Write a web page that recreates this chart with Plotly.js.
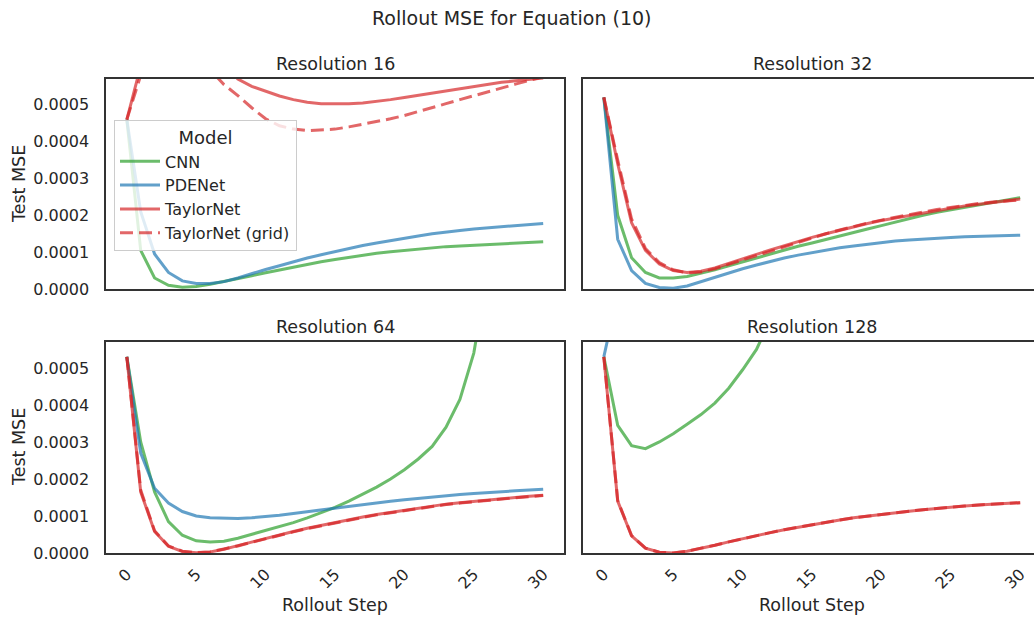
<!DOCTYPE html>
<html>
<head>
<meta charset="utf-8">
<script src="https://cdn.plot.ly/plotly-3.0.1.min.js"></script>
<style>
html,body{margin:0;padding:0;overflow:hidden;background:#ffffff;}
#chart{width:1050px;height:620px;}
</style>
</head>
<body>
<div id="chart"></div>
<script>
// ---- data ----
const steps = [0,1,2,3,4,5,6,7,8,9,10,11,12,13,14,15,16,17,18,19,20,21,22,23,24,25,26,27,28,29,30];

const models = ["CNN", "PDENet", "TaylorNet", "TaylorNet (grid)"];
const resolutions = ["Resolution 16", "Resolution 32", "Resolution 64", "Resolution 128"];

// Resolution 16
const cnn16  = [4.6e-4,1.05e-4,0.3e-4,0.1e-4,0.05e-4,0.07e-4,0.13e-4,0.2e-4,0.28e-4,0.36e-4,0.44e-4,0.52e-4,0.6e-4,0.67e-4,0.74e-4,0.8e-4,0.86e-4,0.92e-4,0.97e-4,1.01e-4,1.05e-4,1.09e-4,1.12e-4,1.15e-4,1.17e-4,1.19e-4,1.21e-4,1.23e-4,1.25e-4,1.26e-4,1.28e-4];
const pde16  = [4.6e-4,2.1e-4,0.95e-4,0.45e-4,0.22e-4,0.15e-4,0.15e-4,0.2e-4,0.3e-4,0.42e-4,0.53e-4,0.63e-4,0.74e-4,0.84e-4,0.93e-4,1.02e-4,1.1e-4,1.18e-4,1.25e-4,1.32e-4,1.38e-4,1.44e-4,1.5e-4,1.55e-4,1.59e-4,1.63e-4,1.66e-4,1.69e-4,1.72e-4,1.75e-4,1.78e-4];
const tay16  = [4.6e-4,6.0e-4,7.5e-4,8.2e-4,8.0e-4,7.4e-4,6.7e-4,6.15e-4,5.7e-4,5.5e-4,5.36e-4,5.24e-4,5.14e-4,5.07e-4,5.03e-4,5.02e-4,5.03e-4,5.05e-4,5.09e-4,5.14e-4,5.2e-4,5.26e-4,5.32e-4,5.38e-4,5.44e-4,5.5e-4,5.56e-4,5.61e-4,5.65e-4,5.69e-4,5.73e-4];
const grid16 = [4.6e-4,5.9e-4,7.0e-4,7.4e-4,7.2e-4,6.6e-4,5.95e-4,5.55e-4,5.25e-4,4.92e-4,4.62e-4,4.43e-4,4.34e-4,4.3e-4,4.31e-4,4.34e-4,4.4e-4,4.47e-4,4.54e-4,4.62e-4,4.71e-4,4.81e-4,4.92e-4,5.03e-4,5.14e-4,5.25e-4,5.36e-4,5.46e-4,5.56e-4,5.66e-4,5.76e-4];

// Resolution 32
const cnn32  = [5.2e-4,2.0e-4,0.85e-4,0.45e-4,0.3e-4,0.3e-4,0.34e-4,0.42e-4,0.52e-4,0.63e-4,0.74e-4,0.85e-4,0.96e-4,1.06e-4,1.16e-4,1.25e-4,1.35e-4,1.45e-4,1.54e-4,1.63e-4,1.72e-4,1.82e-4,1.92e-4,2.0e-4,2.08e-4,2.15e-4,2.22e-4,2.29e-4,2.36e-4,2.42e-4,2.48e-4];
const pde32  = [5.2e-4,1.35e-4,0.5e-4,0.15e-4,0.04e-4,0.02e-4,0.08e-4,0.2e-4,0.33e-4,0.44e-4,0.55e-4,0.65e-4,0.75e-4,0.84e-4,0.92e-4,0.99e-4,1.06e-4,1.12e-4,1.17e-4,1.22e-4,1.26e-4,1.3e-4,1.33e-4,1.36e-4,1.38e-4,1.4e-4,1.42e-4,1.43e-4,1.44e-4,1.45e-4,1.46e-4];
const tay32  = [5.2e-4,3.4e-4,1.8e-4,1.05e-4,0.68e-4,0.5e-4,0.45e-4,0.48e-4,0.57e-4,0.7e-4,0.82e-4,0.94e-4,1.06e-4,1.18e-4,1.29e-4,1.4e-4,1.5e-4,1.6e-4,1.69e-4,1.78e-4,1.86e-4,1.93e-4,2.0e-4,2.07e-4,2.13e-4,2.19e-4,2.25e-4,2.3e-4,2.35e-4,2.4e-4,2.44e-4];
const grid32 = [5.2e-4,3.5e-4,1.9e-4,1.1e-4,0.72e-4,0.52e-4,0.44e-4,0.46e-4,0.55e-4,0.67e-4,0.8e-4,0.92e-4,1.04e-4,1.16e-4,1.28e-4,1.39e-4,1.5e-4,1.6e-4,1.7e-4,1.79e-4,1.87e-4,1.95e-4,2.02e-4,2.09e-4,2.16e-4,2.22e-4,2.27e-4,2.32e-4,2.36e-4,2.39e-4,2.42e-4];

// Resolution 64
const cnn64  = [5.3e-4,3.0e-4,1.65e-4,0.85e-4,0.48e-4,0.33e-4,0.3e-4,0.32e-4,0.4e-4,0.5e-4,0.6e-4,0.71e-4,0.82e-4,0.95e-4,1.08e-4,1.23e-4,1.4e-4,1.58e-4,1.78e-4,2.0e-4,2.25e-4,2.54e-4,2.88e-4,3.4e-4,4.15e-4,5.4e-4,7.3e-4,9.8e-4,13e-4,17.5e-4,23e-4];
const pde64  = [5.3e-4,2.7e-4,1.75e-4,1.35e-4,1.12e-4,1.0e-4,0.95e-4,0.93e-4,0.93e-4,0.95e-4,0.98e-4,1.02e-4,1.07e-4,1.12e-4,1.17e-4,1.22e-4,1.27e-4,1.32e-4,1.36e-4,1.4e-4,1.44e-4,1.48e-4,1.52e-4,1.55e-4,1.58e-4,1.61e-4,1.64e-4,1.66e-4,1.68e-4,1.7e-4,1.72e-4];
const tay64  = [5.3e-4,1.65e-4,0.58e-4,0.18e-4,0.04e-4,0.01e-4,0.03e-4,0.1e-4,0.2e-4,0.3e-4,0.4e-4,0.49e-4,0.58e-4,0.67e-4,0.75e-4,0.83e-4,0.9e-4,0.97e-4,1.04e-4,1.1e-4,1.16e-4,1.22e-4,1.27e-4,1.32e-4,1.36e-4,1.4e-4,1.44e-4,1.47e-4,1.5e-4,1.53e-4,1.56e-4];
const grid64 = [5.3e-4,1.7e-4,0.6e-4,0.19e-4,0.05e-4,0.01e-4,0.03e-4,0.1e-4,0.19e-4,0.29e-4,0.39e-4,0.48e-4,0.57e-4,0.66e-4,0.74e-4,0.82e-4,0.89e-4,0.96e-4,1.03e-4,1.09e-4,1.15e-4,1.21e-4,1.26e-4,1.31e-4,1.35e-4,1.39e-4,1.43e-4,1.46e-4,1.49e-4,1.52e-4,1.55e-4];

// Resolution 128
const cnn128  = [5.3e-4,3.45e-4,2.9e-4,2.82e-4,3.0e-4,3.22e-4,3.48e-4,3.74e-4,4.05e-4,4.45e-4,4.95e-4,5.5e-4,6.3e-4,7.3e-4,8.6e-4,10.2e-4,12e-4,14e-4,16.5e-4,19e-4,22e-4,25e-4,28e-4,32e-4,36e-4,40e-4,45e-4,50e-4,55e-4,60e-4,66e-4];
const pde128  = [5.3e-4,7.0e-4,9.8e-4,12.1e-4,14.9e-4,17.2e-4,20.3e-4,23.1e-4,26.0e-4,28.4e-4,31.7e-4,34.9e-4,37.2e-4,40.6e-4,43.3e-4,46.8e-4,49.1e-4,52.7e-4,55.4e-4,58.2e-4,61.9e-4,64.1e-4,67.8e-4,70.3e-4,73.6e-4,76.9e-4,79.2e-4,82.8e-4,85.1e-4,88.7e-4,91.4e-4];
const tay128  = [5.3e-4,1.4e-4,0.46e-4,0.13e-4,0.02e-4,0.0,0.05e-4,0.12e-4,0.21e-4,0.3e-4,0.39e-4,0.47e-4,0.55e-4,0.63e-4,0.7e-4,0.77e-4,0.83e-4,0.89e-4,0.95e-4,1.0e-4,1.05e-4,1.09e-4,1.13e-4,1.17e-4,1.21e-4,1.24e-4,1.27e-4,1.3e-4,1.32e-4,1.34e-4,1.36e-4];
const grid128 = [5.3e-4,1.42e-4,0.47e-4,0.13e-4,0.02e-4,0.0,0.05e-4,0.12e-4,0.21e-4,0.3e-4,0.39e-4,0.47e-4,0.55e-4,0.63e-4,0.7e-4,0.77e-4,0.83e-4,0.89e-4,0.95e-4,1.0e-4,1.05e-4,1.09e-4,1.13e-4,1.17e-4,1.21e-4,1.24e-4,1.27e-4,1.3e-4,1.32e-4,1.34e-4,1.36e-4];

const xTicks = [0,5,10,15,20,25,30];
const yTicks = [0,0.0001,0.0002,0.0003,0.0004,0.0005];
const yTickLabels = ["0.0000","0.0001","0.0002","0.0003","0.0004","0.0005"];

// ---- styling ----
const colors = ["#2ca02c", "#1f77b4", "#d62728", "#d62728"];
const dashes = ["solid", "solid", "solid", "13px,6px"];
const FONT = "DejaVu Sans, Liberation Sans, sans-serif";
const TXT = "#262626";
const W = 1050, H = 620;
const fx = p => p / W;
const fy = p => 1 - p / H;

const panels = [
  {series: [cnn16, pde16, tay16, grid16], xa: "x", ya: "y"},
  {series: [cnn32, pde32, tay32, grid32], xa: "x2", ya: "y2"},
  {series: [cnn64, pde64, tay64, grid64], xa: "x3", ya: "y3"},
  {series: [cnn128, pde128, tay128, grid128], xa: "x4", ya: "y4"}
];

const traces = [];
panels.forEach((p, pi) => {
  p.series.forEach((vals, mi) => {
    traces.push({
      type: "scatter", mode: "lines",
      x: steps, y: vals,
      xaxis: p.xa, yaxis: p.ya,
      name: models[mi],
      legendgroup: models[mi],
      showlegend: pi === 0,
      opacity: 0.7,
      line: {color: colors[mi], width: 3, dash: dashes[mi]},
      hoverinfo: "skip"
    });
  });
});

const colL = [fx(106), fx(564)];
const colR = [fx(583), fx(1041)];
const rowT = [fy(289), fy(79)];
const rowB = [fy(553), fy(342)];

function xAxis(domain, anchor, showLabels) {
  return {
    domain: domain, anchor: anchor,
    range: [-1.5, 31.5],
    tickvals: xTicks, ticktext: xTicks.map(String),
    showticklabels: showLabels,
    tickangle: -45,
    ticks: "", ticklabelstandoff: 4,
    tickfont: {family: FONT, size: 16, color: TXT},
    showline: true, mirror: true, linecolor: "#333333", linewidth: 1.6,
    showgrid: false, zeroline: false, fixedrange: true
  };
}
function yAxis(domain, anchor, showLabels) {
  return {
    domain: domain, anchor: anchor,
    range: [0, 0.00057],
    tickvals: yTicks, ticktext: yTickLabels,
    showticklabels: showLabels,
    ticks: "", ticklabelstandoff: 12,
    tickfont: {family: FONT, size: 16, color: TXT},
    showline: true, mirror: true, linecolor: "#333333", linewidth: 1.6,
    showgrid: false, zeroline: false, fixedrange: true
  };
}

const ann = [];
ann.push({text: "Rollout MSE for Equation (10)", x: fx(512), y: fy(18), xref: "paper", yref: "paper",
          xanchor: "center", yanchor: "middle", showarrow: false, font: {family: FONT, size: 19, color: TXT}});
const titlePos = [[335, 64], [812, 64], [335, 327], [812, 327]];
resolutions.forEach((r, i) => {
  ann.push({text: r, x: fx(titlePos[i][0]), y: fy(titlePos[i][1]), xref: "paper", yref: "paper",
            xanchor: "center", yanchor: "middle", showarrow: false, font: {family: FONT, size: 17.5, color: TXT}});
});
[184, 447].forEach(yc => {
  ann.push({text: "Test MSE", x: fx(19), y: fy(yc), xref: "paper", yref: "paper", textangle: -90,
            xanchor: "center", yanchor: "middle", showarrow: false, font: {family: FONT, size: 17.5, color: TXT}});
});
[335, 812].forEach(xc => {
  ann.push({text: "Rollout Step", x: fx(xc), y: fy(605), xref: "paper", yref: "paper",
            xanchor: "center", yanchor: "middle", showarrow: false, font: {family: FONT, size: 17.5, color: TXT}});
});

const layout = {
  width: W, height: H,
  margin: {l: 0, r: 0, t: 0, b: 0, pad: 0},
  paper_bgcolor: "#ffffff", plot_bgcolor: "#ffffff",
  font: {family: FONT, color: TXT},
  xaxis: xAxis(colL, "y", false),
  yaxis: yAxis(rowT, "x", true),
  xaxis2: xAxis(colR, "y2", false),
  yaxis2: yAxis(rowT, "x2", false),
  xaxis3: xAxis(colL, "y3", true),
  yaxis3: yAxis(rowB, "x3", true),
  xaxis4: xAxis(colR, "y4", true),
  yaxis4: yAxis(rowB, "x4", false),
  showlegend: true,
  legend: {
    x: fx(114), y: fy(120), xanchor: "left", yanchor: "top",
    bgcolor: "rgba(255,255,255,0.8)", bordercolor: "#cccccc", borderwidth: 1,
    font: {family: FONT, size: 16, color: TXT},
    title: {text: "Model", side: "top center", font: {family: FONT, size: 18, color: TXT}},
    itemwidth: 40, tracegroupgap: 1, traceorder: "normal"
  },
  annotations: ann
};

Plotly.newPlot("chart", traces, layout, {displayModeBar: false, responsive: false, staticPlot: true});
</script>
</body>
</html>
